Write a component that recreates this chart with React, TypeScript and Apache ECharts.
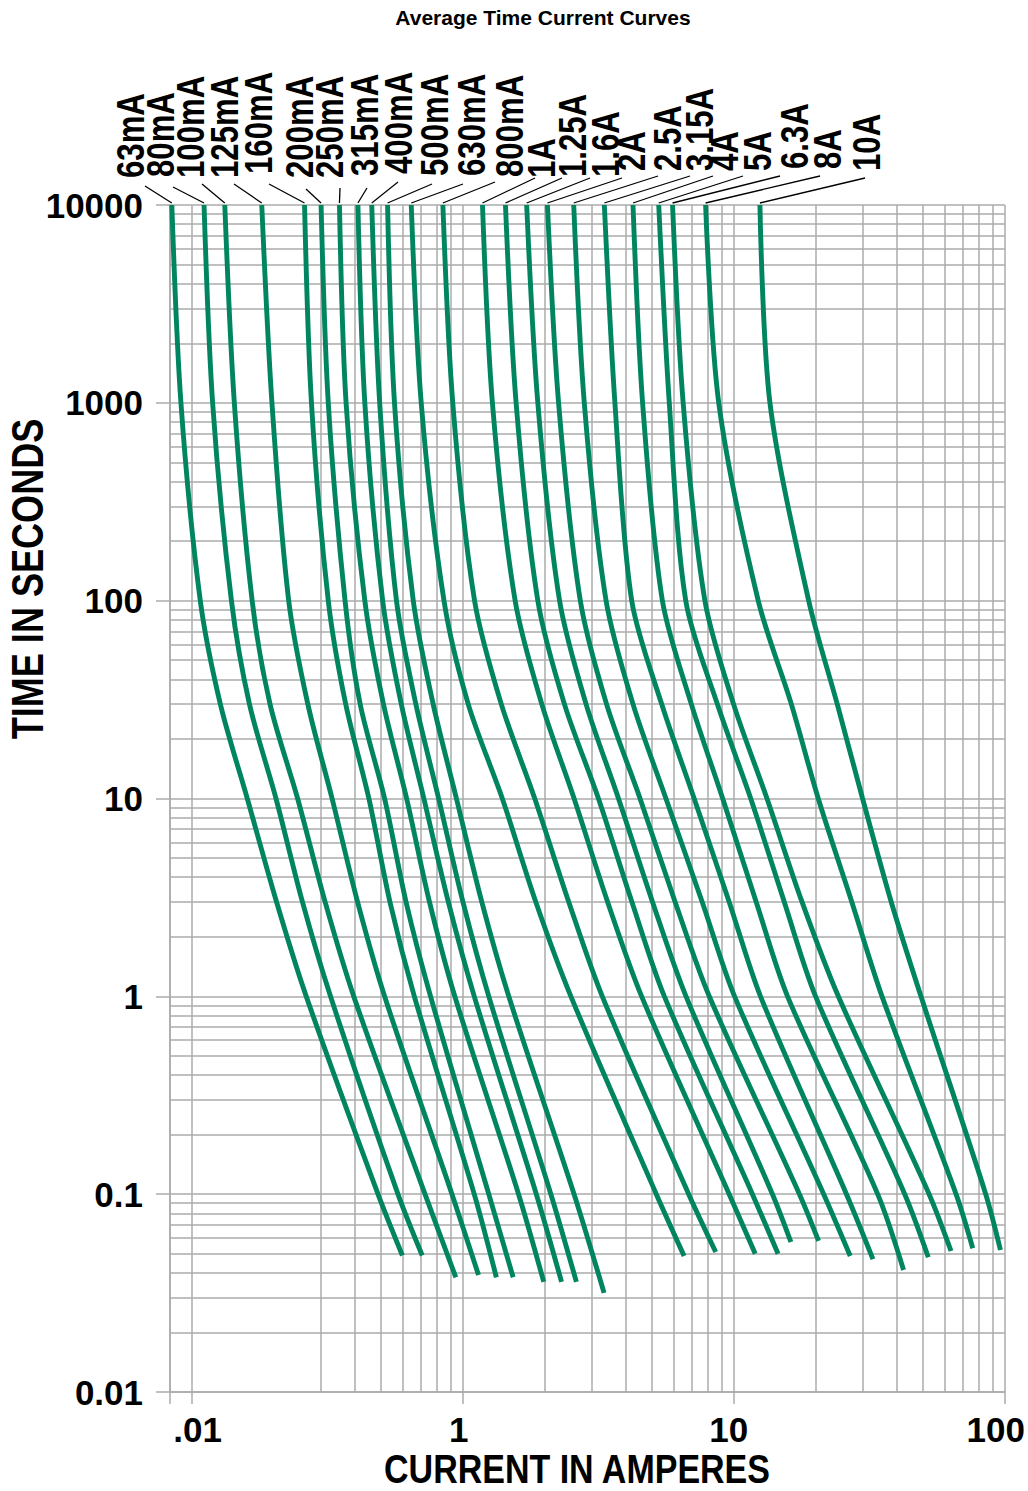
import React, { useEffect, useRef } from 'react';
import * as echarts from 'echarts';

// ---- data -------------------------------------------------------------
const ratings = ['63mA', '80mA', '100mA', '125mA', '160mA', '200mA', '250mA', '315mA', '400mA', '500mA',
  '630mA', '800mA', '1A', '1.25A', '1.6A', '2A', '2.5A', '3.15A', '4A', '5A', '6.3A', '8A', '10A'];

// times (s) at which each curve's currents are read; the last point of each curve is at endTimes[k]
const times = [10000, 1000, 100, 30, 10, 3, 1, 0.1];
const endTimes = [0.049, 0.049, 0.038, 0.039, 0.038, 0.038, 0.036, 0.036, 0.036, 0.0317,
  0.0487, 0.051, 0.05, 0.05, 0.0573, 0.058, 0.0487, 0.047, 0.0414, 0.048, 0.0516, 0.0533, 0.0522];

// currents (A) of each curve
const i63mA = [0.0845, 0.0913, 0.1076, 0.1276, 0.1604, 0.2057, 0.2647, 0.487, 0.599];
const i80mA = [0.1111, 0.1195, 0.1402, 0.1634, 0.2047, 0.2563, 0.3253, 0.577, 0.709];
const i100mA = [0.1325, 0.1437, 0.1672, 0.1946, 0.246, 0.3107, 0.3963, 0.726, 0.943];
const i125mA = [0.1814, 0.1978, 0.2281, 0.2683, 0.3297, 0.4093, 0.515, 0.913, 1.144];
const i160mA = [0.2609, 0.2767, 0.3192, 0.3701, 0.4507, 0.539, 0.663, 1.103, 1.331];
const i200mA = [0.3002, 0.3192, 0.3681, 0.4186, 0.515, 0.618, 0.761, 1.248, 1.535];
const i250mA = [0.351, 0.3713, 0.4354, 0.51, 0.621, 0.754, 0.935, 1.607, 1.991];
const i315mA = [0.4106, 0.4354, 0.5066, 0.5935, 0.719, 0.885, 1.103, 1.869, 2.316];
const i400mA = [0.4618, 0.494, 0.5697, 0.6716, 0.815, 1.002, 1.248, 2.115, 2.627];
const i500mA = [0.5282, 0.5602, 0.657, 0.778, 0.948, 1.176, 1.479, 2.576, 3.323];
const i630mA = [0.646, 0.703, 0.853, 1.048, 1.4, 1.861, 2.507, 5.18, 6.56];
const i800mA = [0.845, 0.919, 1.106, 1.388, 1.844, 2.462, 3.273, 6.82, 8.58];
const i1A = [1.183, 1.287, 1.561, 1.958, 2.576, 3.425, 4.572, 9.62, 12.0];
const i1p25A = [1.438, 1.574, 1.893, 2.373, 3.168, 4.21, 5.546, 11.72, 14.57];
const i1p6A = [1.722, 1.893, 2.277, 2.852, 3.756, 5.015, 6.666, 13.89, 16.25];
const i2A = [2.054, 2.258, 2.716, 3.394, 4.511, 6.077, 8.122, 17.47, 20.56];
const i2p5A = [2.568, 2.809, 3.38, 4.249, 5.62, 7.649, 10.07, 21.47, 26.9];
const i3p15A = [3.331, 3.644, 4.203, 5.421, 7.143, 9.62, 12.55, 26.05, 32.62];
const i4A = [4.249, 4.61, 5.454, 6.975, 9.101, 12.1, 15.79, 33.96, 42.31];
const i5A = [5.287, 5.783, 6.65, 8.7, 11.55, 15.36, 20.04, 42.74, 52.21];
const i6p3A = [5.946, 6.506, 7.826, 9.984, 13.26, 17.86, 24.31, 52.56, 63.33];
const i8A = [7.873, 8.803, 12.31, 16.31, 20.5, 27.26, 35.24, 66.1, 76.17];
const i10A = [12.49, 13.6, 18.9, 24.09, 29.87, 38.11, 49.06, 85.04, 96.38];

const currents = [i63mA, i80mA, i100mA, i125mA, i160mA, i200mA, i250mA, i315mA, i400mA, i500mA,
  i630mA, i800mA, i1A, i1p25A, i1p6A, i2A, i2p5A, i3p15A, i4A, i5A, i6p3A, i8A, i10A];

// tick labels, keyed by decade exponent (as printed on the original sheet)
const xTickLabels: Record<string, string> = { '-1': '.01', '0': '1', '1': '10', '2': '100' };
const yTickLabels: Record<string, string> = {
  '-2': '0.01', '-1': '0.1', '0': '1', '1': '10', '2': '100', '3': '1000', '4': '10000',
};

// minor grid lines
const xMinorLines = [0.3, 0.4, 0.5, 0.6, 0.7, 0.8, 0.9, 2, 3, 4, 5, 6, 7, 8, 9, 20, 30, 40, 50, 60, 70, 80, 90];
const yDecades = [0.01, 0.1, 1, 10, 100, 1000];
const yMultipliers = [2, 3, 4, 5, 6, 7, 8, 9];

// ---- layout (pixels) ----------------------------------------------------
const labelX = [131, 161, 191, 225, 259, 300, 330, 365, 399, 435, 472, 510, 542, 573, 606, 632, 668, 700, 725, 758, 795, 828, 867];
const labelBottom = [178, 177, 178, 178, 174, 178, 178, 176, 174, 176, 176, 177, 178, 177, 177, 171, 171, 171, 171, 171, 169, 169, 171];
const leaderX = [145, 173, 202, 234, 269, 306, 340, 367, 398, 432, 463, 495, 535, 562, 590, 622, 658, 690, 713, 743, 780, 820, 865];
const leaderY = [186, 187, 184, 184, 184, 189, 188, 188, 182, 184, 184, 182, 178, 178, 178, 178, 176, 176, 176, 176, 176, 176, 178];

const SANS = "'Liberation Sans', Arial, Helvetica, sans-serif";
const GREEN = '#008560';
const GRID = '#ababab';
const TICK_FONT = 35;

function expKey(v: number): string | null {
  const e = Math.log10(v);
  const r = Math.round(e);
  return Math.abs(e - r) < 1e-6 ? String(r) : null;
}

export default function App() {
  const ref = useRef<HTMLDivElement>(null);

  useEffect(() => {
    if (!ref.current) return;
    const chart = echarts.init(ref.current, undefined, { renderer: 'svg' });

    const yMinorLines: number[] = [];
    yDecades.forEach((d) => yMultipliers.forEach((m) => yMinorLines.push(+(d * m).toPrecision(6))));

    const lineStyleGrid = { color: GRID, width: 1.5, type: 'solid' as const };
    const tickFont = { fontFamily: SANS, fontWeight: 'bold', fontSize: TICK_FONT, color: '#000' };

    const xRich: Record<string, any> = {
      a: { ...tickFont, padding: [0, 0, 0, 12] },
      b: { ...tickFont, padding: [0, 8, 0, 0] },
      c: { ...tickFont, padding: [0, 10, 0, 0] },
      d: { ...tickFont, padding: [0, 18, 0, 0] },
    };
    const xRichKey: Record<string, string> = { '-1': 'a', '0': 'b', '1': 'c', '2': 'd' };

    const option: any = {
      animation: false,
      grid: { left: 170, top: 205, width: 844.4, height: 1187, containLabel: false },
      xAxis: {
        type: 'log',
        logBase: 10,
        min: 0.0832,
        max: 100,
        axisLine: { show: true, lineStyle: { color: GRID, width: 1.5 } },
        axisTick: { show: true, length: 12, lineStyle: { color: GRID, width: 1.5 } },
        splitLine: { show: true, lineStyle: lineStyleGrid },
        minorTick: { show: false },
        axisLabel: {
          margin: 20,
          ...tickFont,
          showMinLabel: true,
          showMaxLabel: true,
          formatter: (v: number) => {
            const k = expKey(v);
            if (k === null || !(k in xTickLabels)) return '';
            return '{' + xRichKey[k] + '|' + xTickLabels[k] + '}';
          },
          rich: xRich,
        },
      },
      yAxis: {
        type: 'log',
        logBase: 10,
        min: 0.01,
        max: 10000,
        axisLine: { show: true, lineStyle: { color: GRID, width: 1.5 } },
        axisTick: { show: true, length: 14, lineStyle: { color: GRID, width: 1.5 } },
        splitLine: { show: true, lineStyle: lineStyleGrid },
        minorTick: { show: false },
        axisLabel: {
          margin: 27,
          ...tickFont,
          padding: [9, 0, 0, 0],
          formatter: (v: number) => {
            const k = expKey(v);
            return k !== null && k in yTickLabels ? yTickLabels[k] : '';
          },
        },
      },
      series: [
        {
          type: 'line',
          name: 'grid',
          data: [],
          symbol: 'none',
          silent: true,
          z: 1,
          markLine: {
            z: 1,
            silent: true,
            symbol: ['none', 'none'],
            label: { show: false },
            emphasis: { disabled: true },
            lineStyle: lineStyleGrid,
            animation: false,
            data: [
              ...xMinorLines.map((v) => ({ xAxis: v })),
              ...yMinorLines.map((v) => ({ yAxis: v })),
            ],
          },
        },
        ...currents.map((arr, k) => ({
          type: 'line',
          name: ratings[k],
          data: arr.map((c, j) => [c, j < times.length ? times[j] : endTimes[k]]),
          smooth: 0.3,
          symbol: 'none',
          showSymbol: false,
          silent: true,
          clip: false,
          z: 10,
          lineStyle: { color: GREEN, width: 4.9, cap: 'butt' },
        })),
      ],
    };

    chart.setOption(option);

    const graphics: any[] = [
      {
        type: 'text',
        x: 543,
        y: 17,
        z: 20,
        style: {
          text: 'Average Time Current Curves',
          fontFamily: SANS,
          fontWeight: 'bold',
          fontSize: 21,
          fill: '#000',
          align: 'center',
          verticalAlign: 'middle',
        },
      },
      {
        type: 'text',
        x: 28,
        y: 579,
        z: 20,
        rotation: Math.PI / 2,
        scaleX: 0.82,
        style: {
          text: 'TIME IN SECONDS',
          fontFamily: SANS,
          fontWeight: 'bold',
          fontSize: 44,
          fill: '#000',
          align: 'center',
          verticalAlign: 'middle',
        },
      },
      {
        type: 'text',
        x: 577,
        y: 1469,
        z: 20,
        scaleX: 0.85,
        style: {
          text: 'CURRENT IN AMPERES',
          fontFamily: SANS,
          fontWeight: 'bold',
          fontSize: 40,
          fill: '#000',
          align: 'center',
          verticalAlign: 'middle',
        },
      },
    ];

    currents.forEach((arr, k) => {
      const top = chart.convertToPixel({ gridIndex: 0 }, [arr[0], times[0]]) as number[];
      graphics.push({
        type: 'line',
        z: 20,
        shape: { x1: leaderX[k], y1: leaderY[k], x2: top[0], y2: top[1] - 2 },
        style: { stroke: '#000', lineWidth: 1.3 },
      });
      graphics.push({
        type: 'text',
        x: labelX[k],
        y: labelBottom[k],
        z: 20,
        rotation: Math.PI / 2,
        scaleX: 0.82,
        style: {
          text: ratings[k],
          fontFamily: SANS,
          fontWeight: 'bold',
          fontSize: 38,
          fill: '#000',
          align: 'left',
          verticalAlign: 'middle',
        },
      });
    });

    chart.setOption({ graphic: graphics });

    return () => chart.dispose();
  }, []);

  return (
    <div
      ref={ref}
      style={{ position: 'absolute', left: 0, top: 0, width: 1028, height: 1491, background: '#fff' }}
    />
  );
}
